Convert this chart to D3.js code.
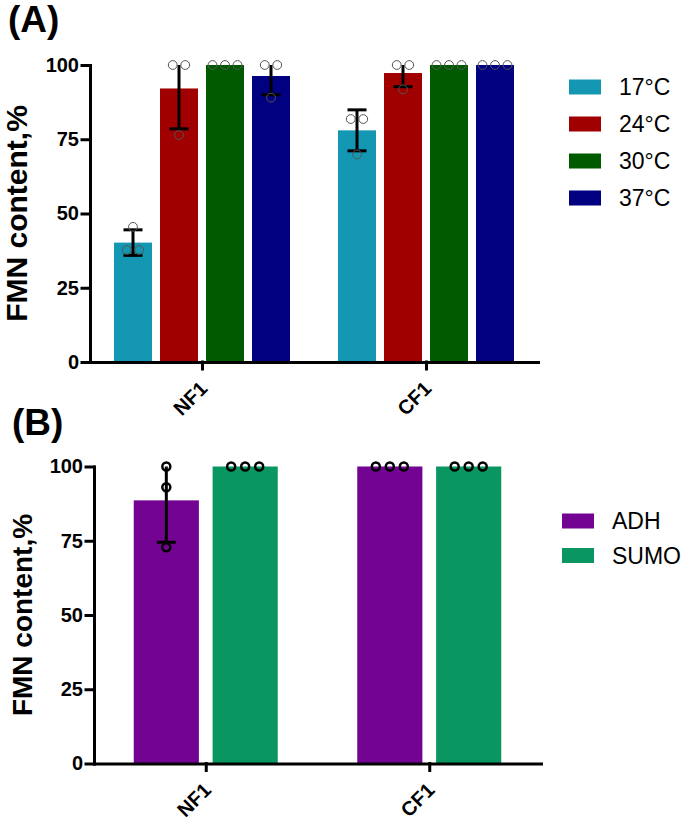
<!DOCTYPE html>
<html>
<head>
<meta charset="utf-8">
<script src="https://cdn.jsdelivr.net/npm/d3@7"></script>
<style>
	body { margin: 0; background: #fff; }
	svg { display: block; font-family: "Liberation Sans", Arial, sans-serif; }
	.axis path, .axis line { stroke: #000; stroke-width: 3; stroke-linecap: square; }
	.axis text { fill: #000; font-weight: bold; font-size: 20px; }
</style>
</head>
<body>
<svg id="chart" width="684" height="822"></svg>
<script>
//panel A data (FMN content per temperature)
var groupsA = ["NF1", "CF1"];
var tempsA = ["17°C", "24°C", "30°C", "37°C"];
var colorsA = ["#1497b3", "#a00000", "#005a00", "#000080"];
var meansNF1A = [40.2, 92.1, 100, 96.3];
var sdNF1A = [4.3, 13.6, 0, 6.3];
var meansCF1A = [78.0, 97.3, 100, 100];
var sdCF1A = [6.9, 4.6, 0, 0];
var pointsNF1A = [[37.7, 37.7, 45.5], [100, 100, 76.4], [100, 100, 100], [100, 100, 89.0]];
var pointsCF1A = [[81.8, 81.8, 69.9], [100, 100, 91.8], [100, 100, 100], [100, 100, 100]];

//panel B data (FMN content per fusion tag)
var groupsB = ["NF1", "CF1"];
var tagsB = ["ADH", "SUMO"];
var colorsB = ["#730493", "#0a9661"];
var meansNF1B = [88.6, 100];
var sdNF1B = [14.1, 0];
var meansCF1B = [100, 100];
var sdCF1B = [0, 0];
var pointsNF1B = [[100, 93.0, 72.8], [100, 100, 100]];
var pointsCF1B = [[100, 100, 100], [100, 100, 100]];

var yTicks = [0, 25, 50, 75, 100];

var svg = d3.select("#chart");

function buildRows(groups, series, means, sds, points)
{
	var rows = [];
	for (var g = 0; g < groups.length; g++)
		for (var s = 0; s < series.length; s++)
			rows.push({group: groups[g], key: series[s], idx: s, mean: means[g][s], sd: sds[g][s], pts: points[g][s]});
	return rows;
}

//spread replicates with the same value side by side, like prism does
function spreadPoints(pts, spacing)
{
	var out = [];
	var byVal = d3.group(pts, function(d) { return d; });
	byVal.forEach(function(list, v) {
		for (var i = 0; i < list.length; i++)
			out.push({v: v, dx: (i - (list.length - 1) / 2) * spacing});
	});
	return out;
}

function drawPanel(cfg)
{
	var g = svg.append("g");

	var y = d3.scaleLinear().domain([0, 100]).range([cfg.y0, cfg.y1]);
	var x0 = d3.scalePoint().domain(cfg.groups).range([cfg.xLeft, cfg.xRight]).padding(0.5);
	var x1 = d3.scaleBand().domain(cfg.series).range([-cfg.groupHalf, cfg.groupHalf]).paddingInner(0.174);
	var color = d3.scaleOrdinal().domain(cfg.series).range(cfg.colors);

	//bars
	g.selectAll("rect.bar").data(cfg.rows).enter().append("rect")
		.attr("class", "bar")
		.attr("x", function(d) { return x0(d.group) + x1(d.key); })
		.attr("y", function(d) { return y(d.mean); })
		.attr("width", x1.bandwidth())
		.attr("height", function(d) { return y(0) - y(d.mean); })
		.attr("fill", function(d) { return color(d.key); });

	//error bars (SD), clipped at axis max without cap
	var eb = g.selectAll("g.err").data(cfg.rows.filter(function(d) { return d.sd > 0; })).enter().append("g")
		.attr("class", "err")
		.attr("transform", function(d) { return "translate(" + (x0(d.group) + x1(d.key) + x1.bandwidth() / 2) + ",0)"; })
		.attr("stroke", "#000").attr("stroke-width", 3);
	eb.append("line")
		.attr("y1", function(d) { return y(Math.min(d.mean + d.sd, 100)); })
		.attr("y2", function(d) { return y(d.mean - d.sd); });
	eb.append("line")
		.attr("x1", -9.5).attr("x2", 9.5)
		.attr("y1", function(d) { return y(d.mean - d.sd); })
		.attr("y2", function(d) { return y(d.mean - d.sd); });
	eb.filter(function(d) { return d.mean + d.sd <= 100; }).append("line")
		.attr("x1", -9.5).attr("x2", 9.5)
		.attr("y1", function(d) { return y(d.mean + d.sd); })
		.attr("y2", function(d) { return y(d.mean + d.sd); });

	//replicate points
	cfg.rows.forEach(function(d) {
		var cx = x0(d.group) + x1(d.key) + x1.bandwidth() / 2;
		g.selectAll(null).data(spreadPoints(d.pts, cfg.ptSpacing)).enter().append("circle")
			.attr("cx", function(p) { return cx + p.dx; })
			.attr("cy", function(p) { return y(p.v); })
			.attr("r", cfg.ptR)
			.attr("fill", "none")
			.attr("stroke", cfg.ptStroke)
			.attr("stroke-width", cfg.ptWidth);
	});

	//axes
	g.append("g").attr("class", "axis")
		.attr("transform", "translate(" + cfg.xLeft + ",0)")
		.call(d3.axisLeft(y).tickValues(yTicks).tickSize(8).tickSizeOuter(0).tickPadding(3));

	var xa = g.append("g").attr("class", "axis")
		.attr("transform", "translate(0," + cfg.y0 + ")")
		.call(d3.axisBottom(x0).tickSize(7).tickSizeOuter(0));
	xa.selectAll("text")
		.attr("x", 0).attr("y", 0).attr("dy", 0)
		.attr("transform", "translate(6,28) rotate(-45)")
		.style("text-anchor", "end");

	//y title
	g.append("text")
		.attr("transform", "translate(" + cfg.titleX + "," + ((cfg.y0 + cfg.y1) / 2) + ") rotate(-90)")
		.attr("text-anchor", "middle")
		.attr("font-weight", "bold")
		.attr("font-size", cfg.titleSize)
		.text("FMN content,%");

	//panel letter
	g.append("text")
		.attr("x", cfg.letterX).attr("y", cfg.letterY)
		.attr("font-weight", "bold")
		.attr("font-size", 37)
		.text(cfg.letter);

	//legend
	var leg = g.selectAll("g.leg").data(cfg.series).enter().append("g")
		.attr("class", "leg")
		.attr("transform", function(d, i) { return "translate(" + cfg.legX + "," + (cfg.legY + i * cfg.legStep) + ")"; });
	leg.append("rect")
		.attr("x", 0).attr("y", -7.5).attr("width", 32).attr("height", 15)
		.attr("fill", function(d) { return color(d); });
	leg.append("text")
		.attr("x", cfg.legTextDx).attr("y", 8)
		.attr("font-size", 23)
		.text(function(d) { return d; });
}

drawPanel({
	groups: groupsA, series: tempsA, colors: colorsA,
	rows: buildRows(groupsA, tempsA, [meansNF1A, meansCF1A], [sdNF1A, sdCF1A], [pointsNF1A, pointsCF1A]),
	y0: 362, y1: 65, xLeft: 90, xRight: 538, groupHalf: 88,
	ptR: 4.4, ptStroke: "#555", ptWidth: 1, ptSpacing: 12.5,
	titleX: 27, titleSize: 30, letter: "(A)", letterX: 8, letterY: 32,
	legX: 569, legY: 87, legStep: 37, legTextDx: 50
});

drawPanel({
	groups: groupsB, series: tagsB, colors: colorsB,
	rows: buildRows(groupsB, tagsB, [meansNF1B, meansCF1B], [sdNF1B, sdCF1B], [pointsNF1B, pointsCF1B]),
	y0: 763.5, y1: 466.5, xLeft: 94, xRight: 541, groupHalf: 72,
	ptR: 4, ptStroke: "#000", ptWidth: 2.5, ptSpacing: 14,
	titleX: 32, titleSize: 28, letter: "(B)", letterX: 12, letterY: 435,
	legX: 562, legY: 521, legStep: 34.5, legTextDx: 50
});
</script>
</body>
</html>
